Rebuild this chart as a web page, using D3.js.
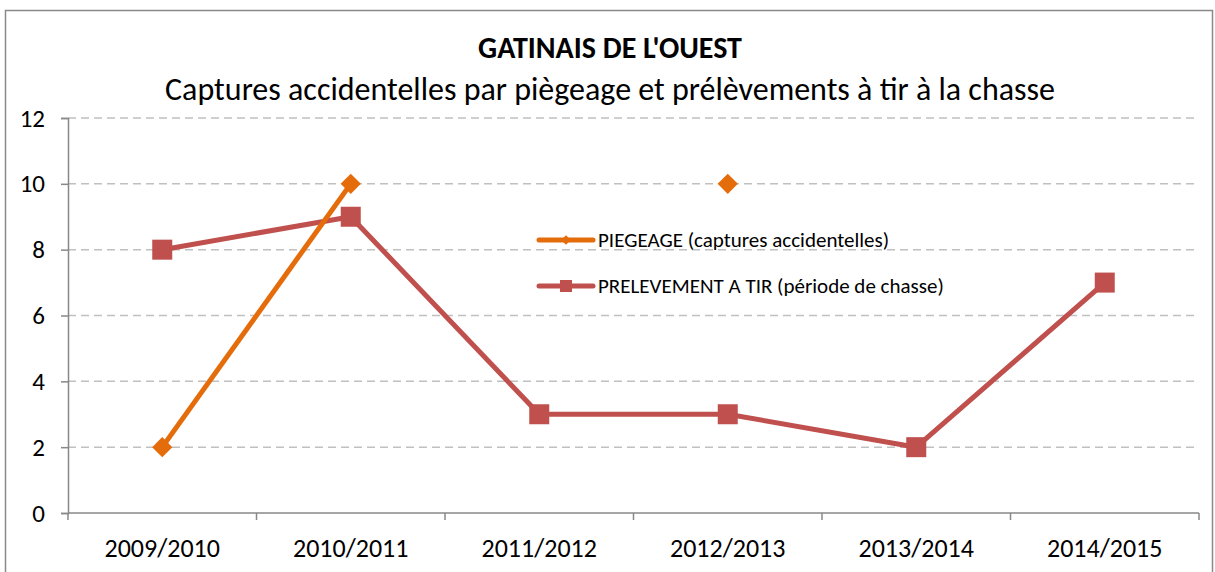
<!DOCTYPE html>
<html>
<head>
<meta charset="utf-8">
<script src="https://cdn.jsdelivr.net/npm/d3@7"></script>
<style>
  body { margin: 0; background: #fff; }
  svg, svg text { font-family: Carlito, Lato, "Open Sans", sans-serif; }
</style>
</head>
<body>
<div id="chart"></div>
<script>
const seasons = ['2009/2010', '2010/2011', '2011/2012', '2012/2013', '2013/2014', '2014/2015'];
const piegeage = [2, 10, null, 10, null, null];
const prelevement = [8, 9, 3, 3, 2, 7];
const yTicks = [0, 2, 4, 6, 8, 10, 12];
const seriesNames = ['PIEGEAGE (captures accidentelles)', 'PRELEVEMENT A TIR (période de chasse)'];

const width = 1215, height = 572;
const margin = { left: 68, right: 16, top: 118, bottom: 59 };
const fontFamily = 'Carlito, Lato, "Open Sans", sans-serif';

const svg = d3.select('#chart').append('svg')
  .attr('width', width)
  .attr('height', height);

// outer chart frame
svg.append('rect')
  .attr('x', 5.5).attr('y', 10.5)
  .attr('width', 1207).attr('height', 570)
  .attr('fill', 'none')
  .attr('stroke', '#898989')
  .attr('stroke-width', 1.5);

const x = d3.scaleBand()
  .domain(seasons)
  .range([margin.left, width - margin.right]);

const y = d3.scaleLinear()
  .domain([0, 12])
  .range([height - margin.bottom, margin.top]);

// gridlines
svg.append('g')
  .selectAll('line')
  .data(yTicks.filter(d => d > 0))
  .enter()
  .append('line')
  .attr('x1', margin.left)
  .attr('x2', width - margin.right)
  .attr('y1', d => y(d))
  .attr('y2', d => y(d))
  .style('stroke', '#c0c0c0')
  .style('stroke-width', 1.5)
  .style('stroke-dasharray', '8,5');

// y axis
const yAxis = svg.append('g')
  .attr('transform', `translate(${margin.left},0)`)
  .call(d3.axisLeft(y).tickValues(yTicks).tickSize(7).tickPadding(16));
yAxis.attr('font-family', fontFamily);
yAxis.select('.domain').attr('stroke', '#888').attr('stroke-width', 1.5);
yAxis.selectAll('.tick line').attr('stroke', '#888').attr('stroke-width', 1.5);
yAxis.selectAll('text').style('font-size', '25px').attr('fill', '#000');

// x axis with ticks at category boundaries
const xAxisG = svg.append('g')
  .attr('transform', `translate(0,${y(0)})`);
xAxisG.append('line')
  .attr('x1', margin.left).attr('x2', width - margin.right)
  .attr('stroke', '#888').attr('stroke-width', 1.5);
const bounds = seasons.map(s => x(s)).concat([x.range()[1]]);
xAxisG.selectAll('.bt')
  .data(bounds)
  .enter()
  .append('line')
  .attr('class', 'bt')
  .attr('x1', d => d).attr('x2', d => d)
  .attr('y1', 0).attr('y2', 7)
  .attr('stroke', '#888').attr('stroke-width', 1.5);
xAxisG.selectAll('text')
  .data(seasons)
  .enter()
  .append('text')
  .attr('x', d => x(d) + x.bandwidth() / 2)
  .attr('y', 44)
  .attr('text-anchor', 'middle')
  .style('font-size', '26px')
  .text(d => d);

const cx = i => x(seasons[i]) + x.bandwidth() / 2;

const line = d3.line()
  .defined(d => d != null)
  .x((d, i) => cx(i))
  .y(d => y(d));

const orange = '#E46C0A';
const red = '#C0504D';

// PRELEVEMENT series
svg.append('path')
  .datum(prelevement)
  .attr('d', line)
  .attr('fill', 'none')
  .attr('stroke', red)
  .attr('stroke-width', 5)
  .attr('stroke-linejoin', 'round');

svg.append('g')
  .selectAll('rect')
  .data(prelevement)
  .enter()
  .append('rect')
  .attr('x', (d, i) => cx(i) - 10)
  .attr('y', d => y(d) - 10)
  .attr('width', 20).attr('height', 20)
  .attr('fill', red);

// PIEGEAGE series
svg.append('path')
  .datum(piegeage)
  .attr('d', line)
  .attr('fill', 'none')
  .attr('stroke', orange)
  .attr('stroke-width', 5)
  .attr('stroke-linejoin', 'round');

const diamond = d3.symbol().type(d3.symbolDiamond2).size(260);
svg.append('g')
  .selectAll('path')
  .data(piegeage.map((v, i) => ({ v, i })).filter(d => d.v != null))
  .enter()
  .append('path')
  .attr('d', diamond)
  .attr('transform', d => `translate(${cx(d.i)},${y(d.v)})`)
  .attr('fill', orange);

// legend
const legend = svg.append('g').attr('transform', 'translate(539,240)');
const legendColors = [orange, red];
seriesNames.forEach((name, i) => {
  const g = legend.append('g').attr('transform', `translate(0,${i * 46})`);
  g.append('line')
    .attr('x1', 0).attr('x2', 54)
    .attr('stroke', legendColors[i])
    .attr('stroke-width', 5)
    .attr('stroke-linecap', 'round');
  if (i === 0) {
    g.append('path')
      .attr('d', d3.symbol().type(d3.symbolDiamond2).size(60))
      .attr('transform', 'translate(27,0)')
      .attr('fill', orange);
  } else {
    g.append('rect')
      .attr('x', 21).attr('y', -6)
      .attr('width', 12).attr('height', 12)
      .attr('fill', red);
  }
  g.append('text')
    .attr('x', 59)
    .attr('y', 7)
    .style('font-size', '21px')
    .text(name);
});

// titles
svg.append('text')
  .attr('x', 610).attr('y', 58)
  .attr('text-anchor', 'middle')
  .style('font-size', '30px')
  .style('font-weight', 'bold')
  .text("GATINAIS DE L'OUEST");
svg.append('text')
  .attr('x', 610).attr('y', 100)
  .attr('text-anchor', 'middle')
  .style('font-size', '32px')
  .text('Captures accidentelles par piègeage et prélèvements à tir à la chasse');
</script>
</body>
</html>
